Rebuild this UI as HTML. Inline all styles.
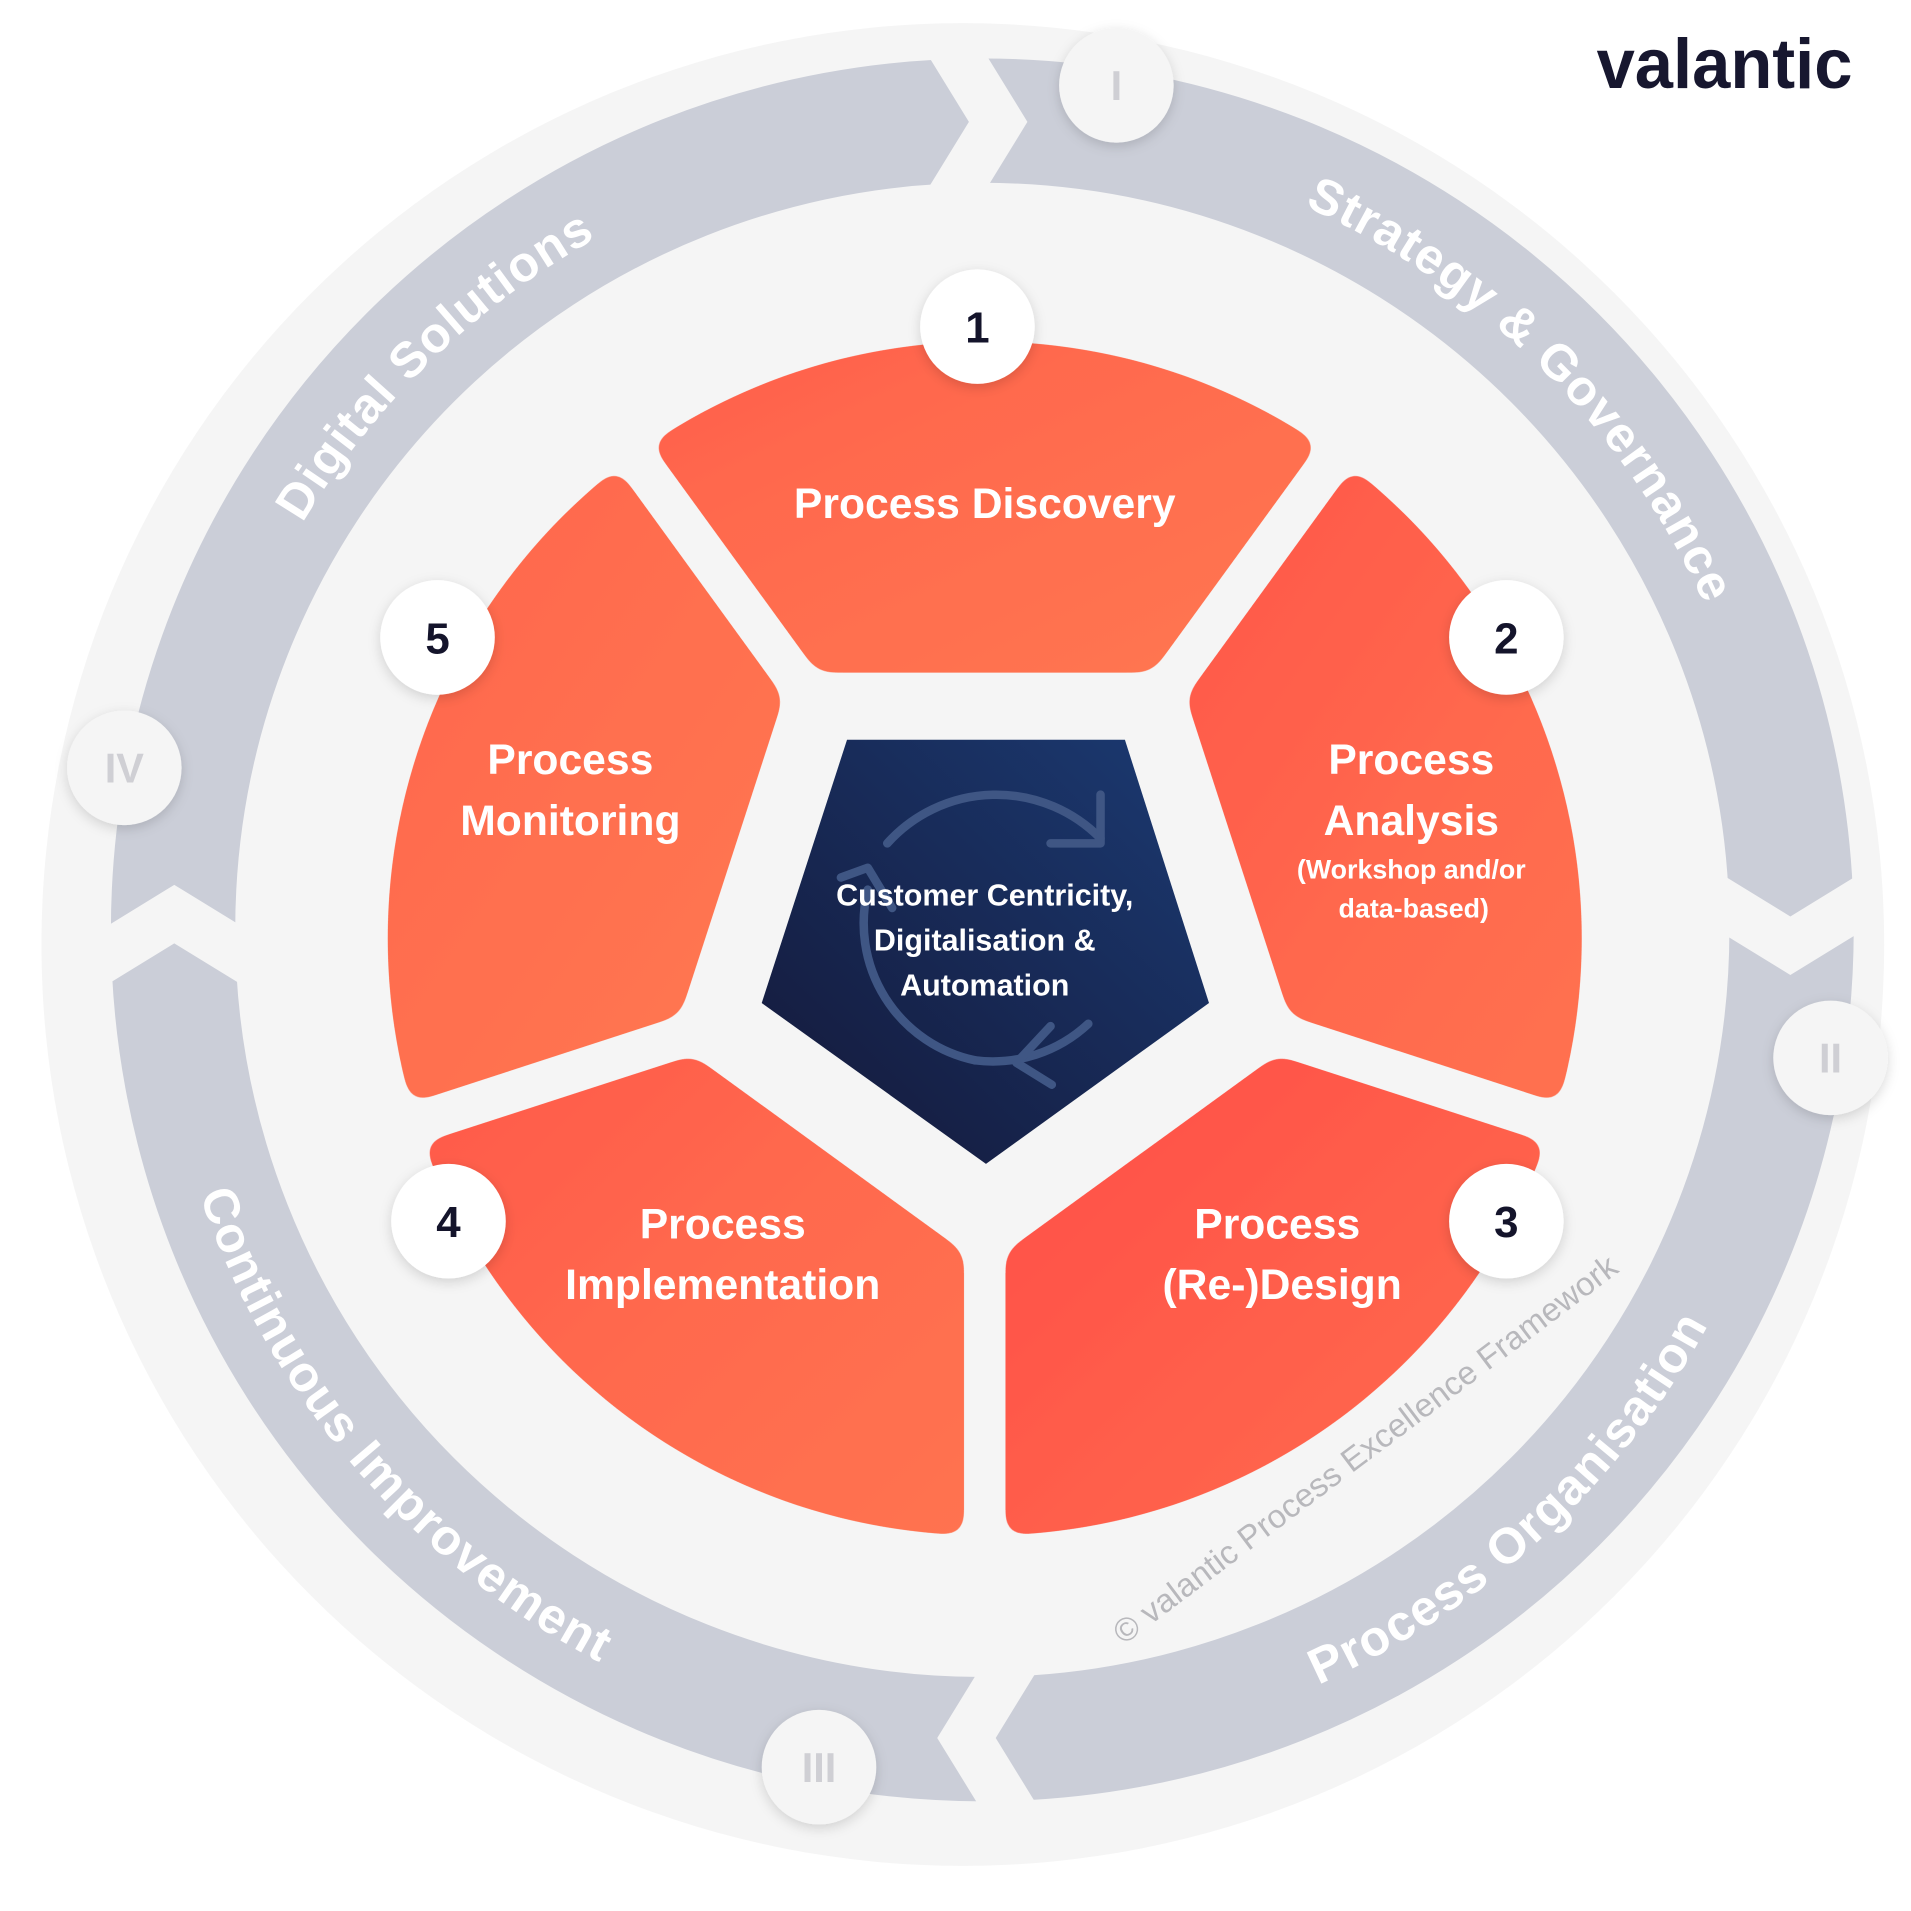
<!DOCTYPE html>
<html><head><meta charset="utf-8"><style>
html,body{margin:0;padding:0;background:#fff;}
svg{display:block;}
text{font-family:"Liberation Sans",sans-serif;}
</style></head><body>
<svg width="1911" height="1911" viewBox="0 0 1568 1568" xmlns="http://www.w3.org/2000/svg">
<defs>
<linearGradient id="og" x1="0" y1="0" x2="1" y2="1">
<stop offset="0" stop-color="#ff4d47"/><stop offset="0.5" stop-color="#ff6a4e"/><stop offset="1" stop-color="#ff7a52"/>
</linearGradient>
<linearGradient id="ng" x1="1" y1="0" x2="0" y2="1">
<stop offset="0" stop-color="#1b3a72"/><stop offset="1" stop-color="#141838"/>
</linearGradient>
<clipPath id="circ"><circle cx="808" cy="770" r="490"/></clipPath>
<filter id="rnd" x="-10%" y="-10%" width="120%" height="120%">
<feGaussianBlur in="SourceAlpha" stdDeviation="9" result="b"/>
<feComponentTransfer in="b" result="t"><feFuncA type="linear" slope="30" intercept="-14.5"/></feComponentTransfer>
<feComposite in="SourceGraphic" in2="t" operator="in"/>
</filter>
<filter id="sh" x="-30%" y="-30%" width="160%" height="160%"><feDropShadow dx="0" dy="3" stdDeviation="5" flood-color="#000" flood-opacity="0.15"/></filter>
<path id="p1" d="M1070.4,169.2 A650,650 0 0 1 1456,763"/>
<path id="p2" d="M243.1,438 A650,650 0 0 1 1131,200.1"/>
<path id="p3" d="M1081.7,1382.4 A678,678 0 0 0 1473.7,645.3"/>
<path id="p4" d="M161.2,972.5 A678,678 0 0 0 923.7,1430.7"/>
</defs>
<rect width="1568" height="1568" fill="#fff"/>
<circle cx="790" cy="775" r="756" fill="#f5f5f5"/>
<circle cx="806" cy="763" r="664" fill="none" stroke="#cbced8" stroke-width="102"/>
<g fill="#f5f5f5" transform="translate(806,763)">
<polygon points="-54,-733 -11,-663 -54,-593 -6,-593 37,-663 -6,-733"/>
<polygon points="-54,-733 -11,-663 -54,-593 -6,-593 37,-663 -6,-733" transform="rotate(90)"/>
<polygon points="-54,-733 -11,-663 -54,-593 -6,-593 37,-663 -6,-733" transform="rotate(180)"/>
<polygon points="-54,-733 -11,-663 -54,-593 -6,-593 37,-663 -6,-733" transform="rotate(270)"/>
</g>
<g font-weight="bold" font-size="41" fill="#fff" letter-spacing="1">
<text><textPath href="#p1">Strategy &amp; Governance</textPath></text>
<text><textPath href="#p2" startOffset="10">Digital Solutions</textPath></text>
<text><textPath href="#p3">Process Organisation</textPath></text>
<text><textPath href="#p4" startOffset="8">Continuous Improvement</textPath></text>
</g>
<g filter="url(#sh)" fill="#f5f5f5">
<circle cx="916" cy="70" r="47"/><circle cx="1502" cy="868" r="47"/><circle cx="672" cy="1450" r="47"/><circle cx="102" cy="630" r="47"/>
</g>
<g font-weight="bold" font-size="34" fill="#cfcfd4" text-anchor="middle">
<text x="916" y="82">I</text><text x="1502" y="880">II</text><text x="672" y="1462">III</text><text x="102" y="642">IV</text>
</g>
<g filter="url(#rnd)">
<g clip-path="url(#circ)">
<polygon points="670.6,552 945.4,552 1264.5,113 351.5,113" fill="url(#og)"/>
<polygon points="972.9,571.9 1057.8,833.3 1574,1001.2 1291.8,132.8" fill="url(#og)"/>
<polygon points="1047.3,865.6 824.9,1027.2 824.9,1569.8 1563.5,1033.2" fill="url(#og)"/>
<polygon points="791.1,1027.2 568.7,865.6 52.5,1033.2 791.1,1569.8" fill="url(#og)"/>
<polygon points="558.2,833.3 643.1,571.9 324.2,132.8 42,1001.2" fill="url(#og)"/>
</g>
</g>
<polygon points="695,607 923,607 992,823 809,955 625,823" fill="url(#ng)"/>
<g fill="none" stroke="#3f5684" stroke-width="7" stroke-linecap="round" stroke-linejoin="round">
<path d="M728,692 A120,120 0 0 1 903,688"/>
<path d="M903,652 L903,692 L862,692"/>
<path d="M893,840 A115,115 0 0 1 800,870"/>
<path d="M862,842 L834,872 L863,890"/>
<path d="M800,870 A115,115 0 0 1 712,730"/>
<path d="M690,720 L712,712 L732,745" />
</g>
<g font-weight="bold" font-size="25" fill="#fff" text-anchor="middle">
<text x="808" y="743">Customer Centricity,</text>
<text x="808" y="780">Digitalisation &amp;</text>
<text x="808" y="817">Automation</text>
</g>
<g font-weight="bold" font-size="35" fill="#fff" text-anchor="middle">
<text x="808" y="425">Process Discovery</text>
<text x="1158" y="635">Process</text><text x="1158" y="685">Analysis</text>
<text x="468" y="635">Process</text><text x="468" y="685">Monitoring</text>
<text x="593" y="1016">Process</text><text x="593" y="1066">Implementation</text>
<text x="1048" y="1016">Process</text><text x="1052" y="1066">(Re-)Design</text>
</g>
<g font-weight="bold" font-size="22" fill="#fff" text-anchor="middle">
<text x="1158" y="721">(Workshop and/or</text><text x="1160" y="753">data-based)</text>
</g>
<g filter="url(#sh)" fill="#fff">
<circle cx="802" cy="268" r="47"/><circle cx="1236" cy="523" r="47"/><circle cx="1236" cy="1002" r="47"/><circle cx="368" cy="1002" r="47"/><circle cx="359" cy="523" r="47"/>
</g>
<g font-weight="bold" font-size="36" fill="#14142b" text-anchor="middle">
<text x="802" y="281">1</text><text x="1236" y="536">2</text><text x="1236" y="1015">3</text><text x="368" y="1015">4</text><text x="359" y="536">5</text>
</g>
<text x="0" y="0" font-size="27" fill="#b8b8bc" transform="translate(922,1350) rotate(-37)" textLength="510">© valantic Process Excellence Framework</text>
<text x="1310" y="72" font-weight="bold" font-size="58" fill="#17172f" textLength="210" lengthAdjust="spacingAndGlyphs">valantic</text>
</svg>
</body></html>
